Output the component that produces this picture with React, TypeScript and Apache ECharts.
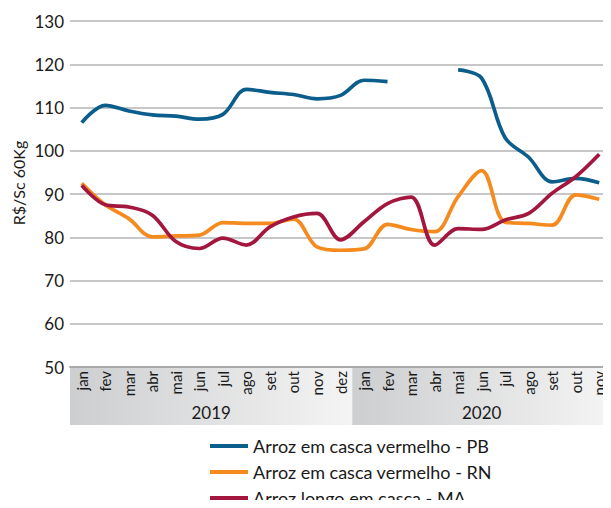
import React, { useEffect, useRef } from "react";
import * as echarts from "echarts";

const months = ["jan","fev","mar","abr","mai","jun","jul","ago","set","out","nov","dez","jan","fev","mar","abr","mai","jun","jul","ago","set","out","nov"];
const years = [{ label: "2019", start: 0, end: 11 }, { label: "2020", start: 12, end: 22 }];
const yTicks = [50, 130, 10];

const pb = [106.5,110.5,109.2,108.3,108,107.3,108.4,114.2,113.5,113,112,112.8,116.3,116,null,null,118.7,116.8,103,98.5,92.8,93.6,92.6];
const rn = [92.5,87.5,84.3,80.1,80.3,80.5,83.4,83.2,83.2,84.2,77.8,77,77.3,83,81.8,81.3,89.4,95.4,83.5,83.2,82.8,89.8,88.8];
const ma = [92,87.5,87,85.1,79,77.4,79.8,78.2,82.4,84.7,85.5,79.4,83.6,87.8,89.3,78.2,82,81.8,84,85.5,90.2,94,99.2];

const names = ["Arroz em casca vermelho - PB", "Arroz em casca vermelho - RN", "Arroz longo em casca - MA"];
const colors = ["#0b5e8c", "#f58a1f", "#a3173f"];
const FONT = "Lato";

export default function App() {
  const ref = useRef<HTMLDivElement>(null);
  useEffect(() => {
    if (!ref.current) return;
    const chart = echarts.init(ref.current, undefined, { renderer: "svg" });
    const mk = (name: string, data: (number | null)[], color: string) => ({
      name,
      type: "line",
      data,
      smooth: 0.35,
      showSymbol: false,
      symbol: "none",
      connectNulls: false,
      lineStyle: { color, width: 3.7 },
      itemStyle: { color },
    });
    chart.setOption({
      animation: false,
      textStyle: { fontFamily: FONT },
      grid: { left: 70, top: 21, right: -4, bottom: 141, containLabel: false },
      xAxis: {
        type: "category",
        data: months,
        boundaryGap: true,
        axisTick: { show: false },
        axisLine: { show: true, lineStyle: { color: "#aaaaaa", width: 2 } },
        axisLabel: { rotate: 90, fontSize: 15, color: "#1a1a1a", margin: 4, fontFamily: FONT, interval: 0 },
        splitLine: { show: false },
        z: 5,
      },
      yAxis: {
        type: "value",
        min: yTicks[0],
        max: yTicks[1],
        interval: yTicks[2],
        axisLine: { show: false },
        axisTick: { show: false },
        axisLabel: { fontSize: 17, color: "#1a1a1a", margin: 6, fontFamily: FONT },
        splitLine: { lineStyle: { color: "#b5b5b5", width: 1.5 } },
      },
      legend: {
        orient: "vertical",
        left: 205,
        top: 432,
        height: 90,
        itemGap: 8,
        itemWidth: 38,
        itemHeight: 4,
        icon: "rect",
        textStyle: { fontSize: 18, color: "#1a1a1a", fontFamily: FONT, lineHeight: 17 },
        data: names,
      },
      series: [mk(names[0], pb, colors[0]), mk(names[1], rn, colors[1]), mk(names[2], ma, colors[2])],
    });

    const y0 = chart.convertToPixel({ yAxisIndex: 0 }, yTicks[0]) as number;
    const graphics: any[] = [];
    years.forEach((yr) => {
      const a = chart.convertToPixel({ xAxisIndex: 0 }, yr.start) as number;
      const b = chart.convertToPixel({ xAxisIndex: 0 }, yr.end) as number;
      const step = (chart.convertToPixel({ xAxisIndex: 0 }, 1) as number) - (chart.convertToPixel({ xAxisIndex: 0 }, 0) as number);
      const x1 = a - step / 2;
      const x2 = b + step / 2;
      graphics.push({
        type: "rect",
        z: -10,
        silent: true,
        shape: { x: x1, y: y0, width: x2 - x1, height: 58 },
        style: {
          fill: new echarts.graphic.LinearGradient(0, 0, 1, 0, [
            { offset: 0, color: "#cdced0" },
            { offset: 1, color: "#f4f4f4" },
          ]),
        },
      });
      graphics.push({
        type: "text",
        silent: true,
        x: (x1 + x2) / 2,
        y: y0 + 45,
        style: { text: yr.label, fontSize: 17, fill: "#1a1a1a", fontFamily: FONT, textAlign: "center", textVerticalAlign: "middle" },
      });
    });
    graphics.push({
      type: "text",
      silent: true,
      x: 18,
      y: 183,
      rotation: Math.PI / 2,
      style: { text: "R$/Sc 60Kg", fontSize: 16, fill: "#1a1a1a", fontFamily: FONT, textAlign: "center", textVerticalAlign: "middle" },
    });
    chart.setOption({ graphic: graphics });

    return () => chart.dispose();
  }, []);
  return <div ref={ref} style={{ width: 611, height: 508, margin: -8 }} />;
}
